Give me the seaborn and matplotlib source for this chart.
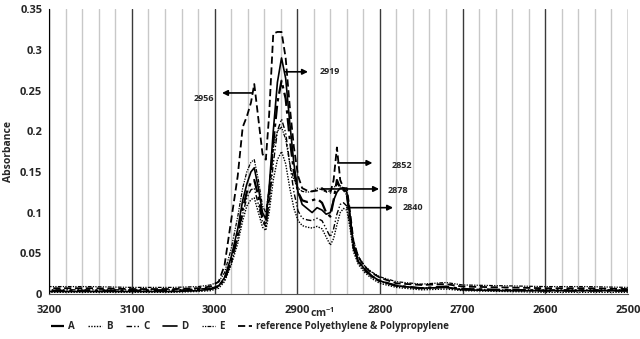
import numpy as np
import pandas as pd
import matplotlib
matplotlib.use("Agg")
import matplotlib.pyplot as plt
from matplotlib.lines import Line2D
import seaborn as sns

# Número de onda (cm-1)
wn = [3200, 3150, 3100, 3050, 3020, 3005, 2995, 2988, 2980, 2972, 2966, 2961, 2956, 2952,
      2947, 2942, 2938, 2934, 2929, 2924, 2919, 2914, 2909, 2904, 2899, 2894, 2888, 2882,
      2876, 2870, 2865, 2860, 2856, 2852, 2848, 2844, 2840, 2836, 2832, 2826, 2818, 2810,
      2800, 2780, 2750, 2720, 2700, 2650, 2600, 2550, 2500]

ref = [0.007, 0.007, 0.006, 0.006, 0.007, 0.009, 0.015, 0.035, 0.090, 0.145, 0.205, 0.218, 0.235, 0.258,
       0.215, 0.172, 0.165, 0.220, 0.320, 0.322, 0.322, 0.290, 0.230, 0.180, 0.145, 0.130, 0.127, 0.126,
       0.127, 0.130, 0.126, 0.124, 0.140, 0.180, 0.140, 0.130, 0.130, 0.100, 0.065, 0.045, 0.033, 0.026,
       0.020, 0.013, 0.011, 0.012, 0.009, 0.008, 0.007, 0.007, 0.006]

A = [0.004, 0.004, 0.004, 0.004, 0.005, 0.006, 0.009, 0.018, 0.040, 0.072, 0.105, 0.125, 0.137, 0.140,
     0.120, 0.092, 0.085, 0.120, 0.185, 0.235, 0.262, 0.240, 0.190, 0.150, 0.125, 0.115, 0.113, 0.115,
     0.117, 0.112, 0.100, 0.095, 0.115, 0.140, 0.130, 0.128, 0.122, 0.092, 0.058, 0.040, 0.030, 0.022,
     0.016, 0.010, 0.007, 0.009, 0.006, 0.005, 0.004, 0.004, 0.004]

B = [0.002, 0.002, 0.002, 0.002, 0.003, 0.004, 0.007, 0.015, 0.035, 0.062, 0.090, 0.108, 0.116, 0.118,
     0.100, 0.082, 0.078, 0.100, 0.140, 0.165, 0.175, 0.160, 0.130, 0.105, 0.090, 0.084, 0.082, 0.081,
     0.083, 0.080, 0.070, 0.060, 0.068, 0.085, 0.100, 0.105, 0.103, 0.080, 0.052, 0.036, 0.026, 0.019,
     0.013, 0.008, 0.005, 0.006, 0.004, 0.003, 0.002, 0.002, 0.002]

C = [0.005, 0.005, 0.005, 0.005, 0.006, 0.007, 0.010, 0.017, 0.038, 0.068, 0.098, 0.118, 0.128, 0.130,
     0.110, 0.088, 0.083, 0.110, 0.160, 0.200, 0.215, 0.198, 0.160, 0.125, 0.102, 0.093, 0.091, 0.090,
     0.093, 0.090, 0.080, 0.070, 0.080, 0.098, 0.110, 0.112, 0.108, 0.085, 0.055, 0.038, 0.028, 0.021,
     0.015, 0.010, 0.007, 0.008, 0.006, 0.005, 0.005, 0.005, 0.005]

D = [0.003, 0.003, 0.003, 0.003, 0.004, 0.006, 0.010, 0.020, 0.045, 0.080, 0.115, 0.135, 0.150, 0.155,
     0.130, 0.100, 0.092, 0.130, 0.200, 0.260, 0.290, 0.265, 0.210, 0.160, 0.125, 0.110, 0.105, 0.100,
     0.106, 0.103, 0.098, 0.100, 0.115, 0.125, 0.130, 0.130, 0.125, 0.095, 0.060, 0.040, 0.030, 0.022,
     0.016, 0.010, 0.007, 0.008, 0.005, 0.004, 0.004, 0.004, 0.004]

E = [0.009, 0.009, 0.008, 0.008, 0.009, 0.011, 0.015, 0.026, 0.055, 0.095, 0.130, 0.150, 0.162, 0.165,
     0.140, 0.108, 0.100, 0.130, 0.180, 0.200, 0.205, 0.190, 0.160, 0.140, 0.130, 0.126, 0.125, 0.126,
     0.130, 0.128, 0.125, 0.127, 0.130, 0.135, 0.133, 0.130, 0.120, 0.095, 0.065, 0.046, 0.034, 0.027,
     0.021, 0.015, 0.012, 0.014, 0.011, 0.010, 0.009, 0.009, 0.008]

series_names = ["A", "B", "C", "D", "E", "reference Polyethylene & Polypropylene"]
series_vals = [A, B, C, D, E, ref]

# Etiquetas de picos
peak_labels = ["2956", "2919", "2852", "2878", "2840"]

styles = {
    "A": dict(linestyle=(0, (6, 2, 1.5, 2)), linewidth=1.6),
    "B": dict(linestyle=(0, (1, 1)), linewidth=1.0),
    "C": dict(linestyle=(0, (4, 1.5, 1, 1.5, 1, 1.5)), linewidth=1.0),
    "D": dict(linestyle="-", linewidth=1.2),
    "E": dict(linestyle=(0, (1, 1, 1, 1, 3, 1)), linewidth=0.9),
    "reference Polyethylene & Polypropylene": dict(linestyle=(0, (4, 2)), linewidth=1.3),
}

sns.set_style("white")
plt.rcParams['font.family'] = ['Open Sans', 'DejaVu Sans']
plt.rcParams['font.weight'] = 'bold'

fig = plt.figure(figsize=(6.4, 3.39), dpi=100)
ax = fig.add_axes([0.077, 0.133, 0.904, 0.840])

# líneas verticales
for x in range(2500, 3201, 20):
    if x % 100 == 0:
        ax.axvline(x, color="#3a3a3a", lw=1.0, zorder=0)
    else:
        ax.axvline(x, color="#c8c8c8", lw=1.0, zorder=0)

for name, vals in zip(series_names, series_vals):
    sns.lineplot(x=wn, y=vals, ax=ax, color="black", label=name, legend=False,
                 **styles[name])

ax.set_xlim(3200, 2500)
ax.set_ylim(0, 0.35)
ax.set_xticks(range(3200, 2499, -100))
ax.set_xticks(range(3200, 2499, -20), minor=True)
ax.set_yticks(np.arange(0, 0.351, 0.05))
ax.set_yticklabels(["0", "0.05", "0.1", "0.15", "0.2", "0.25", "0.3", "0.35"])
ax.tick_params(axis="both", labelsize=8, length=0, pad=5)
ax.tick_params(axis="x", which="minor", length=3, direction="out", color="#888888")
ax.tick_params(axis="x", which="major", length=3, direction="out", color="#333333")
for lab in ax.get_xticklabels() + ax.get_yticklabels():
    lab.set_fontweight("bold")
ax.set_ylabel("Absorbance", fontsize=7.5, fontweight="bold", labelpad=4)
ax.spines["top"].set_visible(False)
ax.spines["right"].set_visible(False)
ax.spines["left"].set_color("black")
ax.spines["bottom"].set_color("#555555")

ax.text(2870, -0.024, "cm$^{\\mathregular{-1}}$", fontsize=7.5, fontweight="bold",
        ha="center", va="center")

arrows = [
    ("2956", 0.247, 2955, 2991, 3013, 0.240),
    ("2919", 0.273, 2915, 2887, 2861, 0.273),
    ("2852", 0.161, 2851, 2809, 2773, 0.158),
    ("2878", 0.129, 2869, 2801, 2778, 0.127),
    ("2840", 0.106, 2840, 2784, 2760, 0.106),
]
for txt, y, tail, head, tx, ty in arrows:
    ax.annotate("", xy=(head, y), xytext=(tail, y),
                arrowprops=dict(arrowstyle="-|>", color="black", lw=1.2,
                                mutation_scale=8, shrinkA=0, shrinkB=0))
    ax.text(tx, ty, txt, fontsize=6.5, fontweight="bold", ha="center", va="center")

handles = [Line2D([0], [0], color="black", **styles[n]) for n in series_names]
fig.legend(handles, series_names, loc="lower center", bbox_to_anchor=(0.39, -0.005),
           ncol=6, frameon=False, handlelength=1.4, handletextpad=0.4,
           columnspacing=1.4, prop={"weight": "bold", "size": 7})

fig.savefig("out.png", dpi=100)
